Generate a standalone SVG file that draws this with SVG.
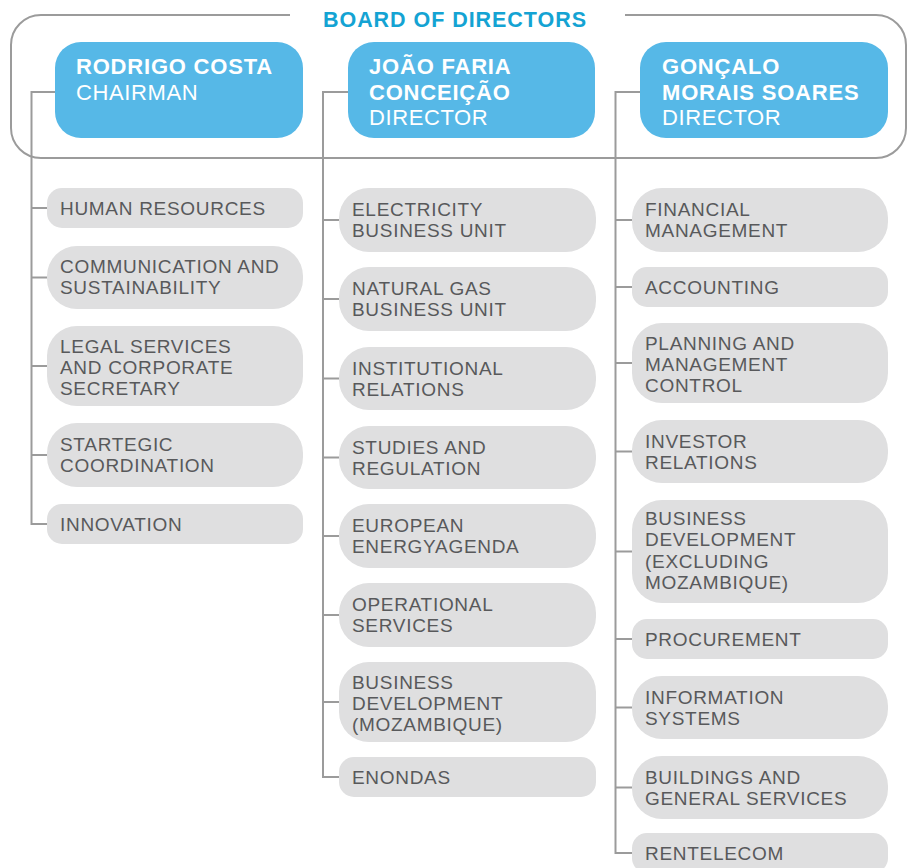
<svg xmlns="http://www.w3.org/2000/svg" width="908" height="868" viewBox="0 0 908 868">
<style>
.frame{fill:none;stroke:#9b9b9b;stroke-width:2}
.conn{fill:none;stroke:#9b9b9b;stroke-width:2}
.dir{fill:#56b8e7}
.unit{fill:#dfdfe0}
.title{font-family:"Liberation Sans",Arial,sans-serif;font-weight:bold;font-size:21.5px;fill:#14a3d3}
.nm{font-family:"Liberation Sans",Arial,sans-serif;font-weight:bold;font-size:22px;fill:#ffffff;letter-spacing:0.8px}
.role{font-family:"Liberation Sans",Arial,sans-serif;font-size:22px;fill:#ffffff;letter-spacing:0.6px}
.ut{font-family:"Liberation Sans",Arial,sans-serif;font-size:19px;fill:#58595b;letter-spacing:0.7px}
</style>
<rect width="908" height="868" fill="#ffffff"/>
<g id="board">
<path class="frame" d="M290,15 H41 A30,30 0 0 0 11,45 V128 A30,30 0 0 0 41,158 H876 A30,30 0 0 0 906,128 V45 A30,30 0 0 0 876,15 H625"/>
<text class="title" x="323" y="27" textLength="263" lengthAdjust="spacing">BOARD OF DIRECTORS</text>
</g>
<g id="connectors">
<path class="conn" d="M55,92 H31.5 V524 H47"/>
<path class="conn" d="M31.5,208 H47 M31.5,277.5 H47 M31.5,366 H47 M31.5,455 H47"/>
<path class="conn" d="M348,92 H323 V777 H339"/>
<path class="conn" d="M323,220 H339 M323,299 H339 M323,378.5 H339 M323,457.5 H339 M323,536 H339 M323,615 H339 M323,702 H339"/>
<path class="conn" d="M640,92 H615.5 V853 H632"/>
<path class="conn" d="M615.5,220 H632 M615.5,287 H632 M615.5,363 H632 M615.5,451.5 H632 M615.5,551.5 H632 M615.5,639 H632 M615.5,707.5 H632 M615.5,787.5 H632"/>
</g>
<g id="director-costa">
<rect class="dir" x="55" y="42" width="248" height="96" rx="26"/>
<text class="nm" x="76" y="74">RODRIGO COSTA</text>
<text class="role" x="76" y="100">CHAIRMAN</text>
</g>
<g id="director-faria">
<rect class="dir" x="348" y="42" width="247" height="96" rx="26"/>
<text class="nm" x="369" y="74">JOÃO FARIA</text>
<text class="nm" x="369" y="100">CONCEIÇÃO</text>
<text class="role" x="369" y="125">DIRECTOR</text>
</g>
<g id="director-soares">
<rect class="dir" x="640" y="42" width="248" height="96" rx="26"/>
<text class="nm" x="662" y="74">GONÇALO</text>
<text class="nm" x="662" y="100">MORAIS SOARES</text>
<text class="role" x="662" y="125">DIRECTOR</text>
</g>
<g id="human-resources"><rect class="unit" x="47" y="188" width="256" height="40" rx="15"/><text class="ut" x="60" y="214.5">HUMAN RESOURCES</text></g>
<g id="communication"><rect class="unit" x="47" y="246" width="256" height="63" rx="30"/><text class="ut" x="60" y="273">COMMUNICATION AND</text><text class="ut" x="60" y="294">SUSTAINABILITY</text></g>
<g id="legal"><rect class="unit" x="47" y="326" width="256" height="80" rx="30"/><text class="ut" x="60" y="352.5">LEGAL SERVICES</text><text class="ut" x="60" y="373.5">AND CORPORATE</text><text class="ut" x="60" y="394.5">SECRETARY</text></g>
<g id="strategic"><rect class="unit" x="47" y="423" width="256" height="64" rx="30"/><text class="ut" x="60" y="451">STARTEGIC</text><text class="ut" x="60" y="472">COORDINATION</text></g>
<g id="innovation"><rect class="unit" x="47" y="504" width="256" height="40" rx="15"/><text class="ut" x="60" y="530.5">INNOVATION</text></g>
<g id="electricity"><rect class="unit" x="339" y="188" width="257" height="64" rx="30"/><text class="ut" x="352" y="216">ELECTRICITY</text><text class="ut" x="352" y="237">BUSINESS UNIT</text></g>
<g id="natural-gas"><rect class="unit" x="339" y="267" width="257" height="64" rx="30"/><text class="ut" x="352" y="295">NATURAL GAS</text><text class="ut" x="352" y="316">BUSINESS UNIT</text></g>
<g id="institutional"><rect class="unit" x="339" y="347" width="257" height="63" rx="30"/><text class="ut" x="352" y="374.5">INSTITUTIONAL</text><text class="ut" x="352" y="395.5">RELATIONS</text></g>
<g id="studies"><rect class="unit" x="339" y="426" width="257" height="63" rx="30"/><text class="ut" x="352" y="453.5">STUDIES AND</text><text class="ut" x="352" y="474.5">REGULATION</text></g>
<g id="european"><rect class="unit" x="339" y="504" width="257" height="64" rx="30"/><text class="ut" x="352" y="532">EUROPEAN</text><text class="ut" x="352" y="553">ENERGYAGENDA</text></g>
<g id="operational"><rect class="unit" x="339" y="583" width="257" height="64" rx="30"/><text class="ut" x="352" y="611">OPERATIONAL</text><text class="ut" x="352" y="632">SERVICES</text></g>
<g id="bd-mozambique"><rect class="unit" x="339" y="662" width="257" height="80" rx="30"/><text class="ut" x="352" y="688.5">BUSINESS</text><text class="ut" x="352" y="709.5">DEVELOPMENT</text><text class="ut" x="352" y="730.5">(MOZAMBIQUE)</text></g>
<g id="enondas"><rect class="unit" x="339" y="757" width="257" height="40" rx="15"/><text class="ut" x="352" y="783.5">ENONDAS</text></g>
<g id="financial"><rect class="unit" x="632" y="188" width="256" height="64" rx="30"/><text class="ut" x="645" y="216">FINANCIAL</text><text class="ut" x="645" y="237">MANAGEMENT</text></g>
<g id="accounting"><rect class="unit" x="632" y="267" width="256" height="40" rx="15"/><text class="ut" x="645" y="293.5">ACCOUNTING</text></g>
<g id="planning"><rect class="unit" x="632" y="323" width="256" height="80" rx="30"/><text class="ut" x="645" y="349.5">PLANNING AND</text><text class="ut" x="645" y="370.5">MANAGEMENT</text><text class="ut" x="645" y="391.5">CONTROL</text></g>
<g id="investor"><rect class="unit" x="632" y="420" width="256" height="63" rx="30"/><text class="ut" x="645" y="447.5">INVESTOR</text><text class="ut" x="645" y="468.5">RELATIONS</text></g>
<g id="bd-excluding"><rect class="unit" x="632" y="500" width="256" height="103" rx="30"/><text class="ut" x="645" y="524.5">BUSINESS</text><text class="ut" x="645" y="546">DEVELOPMENT</text><text class="ut" x="645" y="567.5">(EXCLUDING</text><text class="ut" x="645" y="589">MOZAMBIQUE)</text></g>
<g id="procurement"><rect class="unit" x="632" y="619" width="256" height="40" rx="15"/><text class="ut" x="645" y="645.5">PROCUREMENT</text></g>
<g id="information"><rect class="unit" x="632" y="676" width="256" height="63" rx="30"/><text class="ut" x="645" y="703.5">INFORMATION</text><text class="ut" x="645" y="724.5">SYSTEMS</text></g>
<g id="buildings"><rect class="unit" x="632" y="756" width="256" height="63" rx="30"/><text class="ut" x="645" y="783.5">BUILDINGS AND</text><text class="ut" x="645" y="804.5">GENERAL SERVICES</text></g>
<g id="rentelecom"><rect class="unit" x="632" y="833" width="256" height="40" rx="15"/><text class="ut" x="645" y="859.5">RENTELECOM</text></g>
</svg>
